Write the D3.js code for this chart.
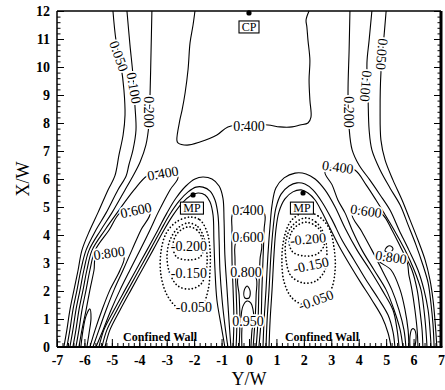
<!DOCTYPE html>
<html>
<head>
<meta charset="utf-8">
<script src="https://cdn.jsdelivr.net/npm/d3@7"></script>
<style>
  html, body { margin: 0; padding: 0; background: #fff; }
  svg { display: block; }
</style>
</head>
<body>
<svg id="chart" width="445" height="390"></svg>
<script>
// ---- axes ----
const spanTicks  = [-7, -6, -5, -4, -3, -2, -1, 0, 1, 2, 3, 4, 5, 6, 7];   // Y/W
const axialTicks = [0, 1, 2, 3, 4, 5, 6, 7, 8, 9, 10, 11, 12];             // X/W

// ---- contour lines, each point is [Y/W, X/W] ----
// outer side lines coming down from the top (left)
const side050L = [[-4.96,12],[-4.85,10.96],[-4.67,10.07],[-4.56,9.18],[-4.52,8.29],[-4.59,7.57],[-4.74,6.86],[-4.89,6.11],[-5.14,5.61],[-5.51,4.79],[-5.80,4.18],[-6.09,3.46],[-6.23,2.75],[-6.38,2.04],[-6.53,1.32],[-6.64,0.61],[-6.75,0]];
const side100L = [[-4.45,12],[-4.34,10.79],[-4.23,9.71],[-4.16,8.64],[-4.12,7.75],[-4.23,7.04],[-4.38,6.5],[-4.48,6.11],[-4.78,5.61],[-5.21,4.79],[-5.58,4.18],[-5.94,3.46],[-6.13,2.75],[-6.27,2.04],[-6.42,1.32],[-6.53,0.61],[-6.64,0]];
const side200L = [[-3.54,12],[-3.57,10.61],[-3.61,8.93],[-3.65,7.93],[-3.76,7.21],[-3.97,6.61],[-4.23,6.11],[-4.52,5.61],[-5.0,4.79],[-5.40,4.18],[-5.83,3.46],[-6.02,2.75],[-6.16,2.04],[-6.31,1.32],[-6.42,0.61],[-6.53,0]];
// left wall jet
const jet400L = [[-6.42,0],[-6.31,0.61],[-6.20,1.32],[-6.05,2.04],[-5.91,2.75],[-5.72,3.46],[-5.25,4.18],[-4.81,4.79],[-4.19,5.61],[-3.72,6.11],[-3.14,6.29],[-2.59,6.07],[-2.88,5.61],[-3.32,4.79],[-3.61,4.18],[-3.97,3.46],[-4.34,2.75],[-4.70,2.04],[-5.03,1.32],[-5.32,0.61],[-5.58,0]];
const jet600L = [[-6.31,0],[-6.20,0.61],[-6.09,1.32],[-5.94,2.04],[-5.80,2.75],[-5.61,3.46],[-5.10,4.18],[-4.70,4.79],[-4.16,4.96],[-3.61,4.79],[-3.94,4.18],[-4.27,3.46],[-4.59,2.75],[-4.92,2.04],[-5.21,1.32],[-5.47,0.61],[-5.69,0]];
const jet800L = [[-6.20,0],[-6.09,0.61],[-5.94,1.32],[-5.80,2.04],[-5.65,2.75],[-5.58,3.21],[-5.07,3.39],[-4.56,3.21],[-4.70,2.75],[-5.07,2.04],[-5.36,1.32],[-5.61,0.61],[-5.80,0]];
const jet950L = [[-6.13,0],[-6.05,0.61],[-5.94,1.11],[-5.80,1.36],[-5.76,1.04],[-5.83,0.5],[-5.91,0]];
// arches over the left recirculation cell
const arch200L = [[-5.47,0],[-5.29,0.61],[-4.92,1.32],[-4.52,2.04],[-4.12,2.75],[-3.72,3.46],[-3.32,4.18],[-2.99,4.79],[-2.66,5.32],[-2.30,5.75],[-1.97,6.0],[-1.68,6.07],[-1.35,6.0],[-1.09,5.75],[-0.95,5.32],[-0.91,4.54],[-0.88,3.29],[-0.80,2.04],[-0.73,0.96],[-0.66,0]];
const arch100L = [[-5.36,0],[-5.18,0.61],[-4.81,1.32],[-4.41,2.04],[-4.01,2.75],[-3.61,3.46],[-3.21,4.18],[-2.88,4.75],[-2.55,5.21],[-2.22,5.54],[-1.93,5.71],[-1.68,5.71],[-1.42,5.57],[-1.24,5.25],[-1.13,4.71],[-1.09,3.82],[-1.06,2.75],[-0.98,1.68],[-0.88,0.79],[-0.77,0]];
const arch050L = [[-5.25,0],[-5.07,0.61],[-4.70,1.32],[-4.30,2.04],[-3.90,2.75],[-3.50,3.46],[-3.10,4.18],[-2.77,4.71],[-2.44,5.14],[-2.15,5.39],[-1.86,5.5],[-1.60,5.43],[-1.42,5.18],[-1.31,4.71],[-1.28,3.82],[-1.24,2.75],[-1.17,1.68],[-1.02,0.79],[-0.88,0]];
// central jet
const jet400C = [[-0.58,0],[-0.55,0.96],[-0.58,2.04],[-0.62,3.11],[-0.62,4.18],[-0.58,4.79],[-0.04,5.0],[0.55,4.79],[0.55,4.18],[0.51,3.11],[0.47,2.04],[0.44,0.96],[0.36,0]];
const jet600C = [[-0.47,0],[-0.44,0.96],[-0.47,2.04],[-0.51,3.11],[-0.47,3.75],[-0.04,3.96],[0.44,3.75],[0.40,3.11],[0.36,2.04],[0.33,0.96],[0.26,0]];
const jet800C = [[-0.36,0],[-0.33,0.96],[-0.36,1.86],[-0.40,2.46],[-0.07,2.75],[0.26,2.46],[0.26,1.86],[0.22,0.96],[0.15,0]];
const jet900C = [[-0.29,1.04],[-0.22,1.46],[-0.07,1.64],[0.07,1.57],[0.15,1.32],[0.18,1.04]];
const jet950C = [[-0.26,0],[-0.26,0.61],[-0.22,0.89],[-0.04,1.04],[0.15,0.89],[0.11,0.61],[0.07,0]];
// arches over the right recirculation cell
const arch200R = [[0.51,0],[0.55,0.96],[0.62,2.04],[0.69,3.29],[0.77,4.36],[0.84,5.07],[0.98,5.68],[1.28,6.04],[1.68,6.21],[2.08,6.18],[2.41,6.0],[2.77,5.61],[3.14,5.0],[3.50,4.25],[3.94,3.46],[4.41,2.75],[4.85,2.04],[5.25,1.32],[5.40,0.61],[5.47,0]];
const arch100R = [[0.62,0],[0.66,0.96],[0.73,2.04],[0.80,3.29],[0.88,4.25],[0.98,4.96],[1.17,5.46],[1.46,5.75],[1.75,5.86],[2.04,5.82],[2.33,5.61],[2.66,5.18],[3.03,4.54],[3.39,3.82],[3.83,3.11],[4.27,2.39],[4.70,1.75],[5.07,1.14],[5.25,0.54],[5.32,0]];
const arch050R = [[0.73,0],[0.77,0.96],[0.84,2.04],[0.91,3.29],[0.98,4.18],[1.09,4.82],[1.31,5.29],[1.60,5.54],[1.90,5.61],[2.15,5.5],[2.41,5.25],[2.66,4.82],[2.95,4.25],[3.28,3.61],[3.68,2.93],[4.08,2.29],[4.48,1.68],[4.85,1.07],[5.07,0.5],[5.18,0]];
// right wall jet
const jet400R = [[5.61,0],[5.51,0.61],[5.29,1.32],[5.0,2.04],[4.56,2.75],[4.12,3.46],[3.76,4.18],[3.50,4.79],[3.24,5.25],[3.03,5.79],[2.77,6.25],[3.24,6.46],[3.86,6.32],[4.27,5.79],[4.63,5.25],[4.92,4.79],[5.29,4.18],[5.69,3.46],[6.02,2.75],[6.27,2.04],[6.38,1.32],[6.45,0.61],[6.49,0]];
const jet600R = [[5.72,0],[5.65,0.61],[5.47,1.32],[5.21,2.04],[4.85,2.75],[4.48,3.46],[4.12,4.11],[3.76,4.75],[4.27,4.96],[4.85,4.75],[5.21,4.18],[5.58,3.46],[5.94,2.75],[6.13,2.04],[6.23,1.32],[6.31,0.61],[6.34,0]];
const jet800R = [[5.83,0],[5.80,0.61],[5.69,1.32],[5.51,2.04],[5.18,2.75],[4.70,3.11],[5.18,3.29],[5.72,3.11],[5.83,2.57],[5.94,2.04],[6.05,1.32],[6.13,0.61],[6.16,0]];
const jet950R = [[5.87,0],[5.87,0.39],[5.94,0.64],[6.02,0.64],[6.09,0.43],[6.05,0]];
// outer side lines coming down from the top (right)
const side200R = [[3.68,12],[3.65,10.61],[3.61,9.07],[3.65,7.82],[3.76,7.04],[4.01,6.5],[4.41,5.96],[4.78,5.43],[5.14,4.89],[5.47,4.18],[5.83,3.46],[6.16,2.75],[6.38,2.04],[6.53,1.32],[6.60,0.61],[6.64,0]];
const side100R = [[4.48,12],[4.38,10.96],[4.30,10.14],[4.34,8.93],[4.38,7.75],[4.48,7.04],[4.78,6.32],[5.14,5.68],[5.51,5.07],[5.80,4.36],[6.09,3.64],[6.34,2.93],[6.53,2.29],[6.64,1.5],[6.71,0.79],[6.75,0]];
const side050R = [[5.0,12],[4.92,11.07],[4.81,9.79],[4.78,8.46],[4.81,7.39],[4.96,6.68],[5.25,5.96],[5.58,5.25],[5.87,4.54],[6.16,3.82],[6.42,3.11],[6.60,2.39],[6.71,1.68],[6.78,0.96],[6.85,0]];
// 0.400 line around the upper core
const core400 = [[-1.97,12],[-2.04,11.5],[-2.15,10.86],[-2.22,9.93],[-2.33,9.07],[-2.44,8.46],[-2.52,8.11],[-2.63,7.39],[-2.59,7.29],[-2.26,7.21],[-1.79,7.32],[-1.17,7.57],[-0.77,7.86],[0,7.96],[0.69,7.93],[1.13,7.86],[1.57,7.86],[1.86,7.93],[2.15,8.0],[2.26,8.21],[2.22,8.82],[2.19,9.54],[2.22,10.25],[2.15,10.96],[2.11,11.43],[2.08,11.68],[2.19,12]];

// closed solid loops
const loop900C = [[-0.07,2.18],[0.04,2.0],[0,1.75],[-0.15,1.75],[-0.18,2.0]];
const loop800R = [[4.96,3.43],[5.03,3.57],[5.16,3.61],[5.25,3.50],[5.14,3.39]];

// negative (dotted) loops inside the recirculation cells
const neg050L = [[-2.15,4.64],[-1.79,4.54],[-1.53,4.11],[-1.42,3.46],[-1.42,2.75],[-1.49,2.04],[-1.68,1.54],[-2.11,1.29],[-2.59,1.39],[-2.99,1.86],[-3.21,2.57],[-3.21,3.39],[-3.03,4.04],[-2.66,4.46]];
const neg150L = [[-2.22,4.43],[-1.86,4.29],[-1.64,3.89],[-1.53,3.29],[-1.57,2.68],[-1.75,2.25],[-2.15,2.07],[-2.59,2.18],[-2.88,2.61],[-2.99,3.21],[-2.88,3.82],[-2.59,4.25]];
const neg200L = [[-2.19,4.29],[-1.90,4.18],[-1.71,3.89],[-1.64,3.54],[-1.79,3.21],[-2.19,3.11],[-2.63,3.21],[-2.77,3.54],[-2.70,3.93],[-2.48,4.18]];
const neg050R = [[2.04,4.82],[2.52,4.68],[2.92,4.25],[3.10,3.54],[3.14,2.75],[2.99,2.04],[2.63,1.61],[2.04,1.5],[1.57,1.75],[1.28,2.32],[1.20,3.11],[1.28,3.89],[1.53,4.5]];
const neg150R = [[2.04,4.61],[2.44,4.46],[2.73,4.04],[2.84,3.39],[2.77,2.75],[2.44,2.36],[1.97,2.29],[1.53,2.54],[1.35,3.11],[1.35,3.82],[1.57,4.32]];
const neg200R = [[2.08,4.46],[2.44,4.32],[2.70,4.0],[2.73,3.61],[2.48,3.32],[2.04,3.25],[1.60,3.39],[1.46,3.75],[1.57,4.14],[1.79,4.36]];

const solidLines = [side050L, side100L, side200L, jet400L, jet600L, jet800L, jet950L,
  arch200L, arch100L, arch050L, jet400C, jet600C, jet800C, jet900C, jet950C,
  arch200R, arch100R, arch050R, jet400R, jet600R, jet800R, jet950R,
  side200R, side100R, side050R, core400];
const solidLoops = [loop900C, loop800R];
const dottedLoops = [neg050L, neg150L, neg200L, neg050R, neg150R, neg200R];

// contour level labels: [text, Y/W, X/W, angle]
const levelLabels = [
  ["0.050", -4.74, 10.39, 70], ["0.100", -4.19, 9.25, 80], ["0.200", -3.65, 8.39, 90],
  ["0.200", 3.65, 8.39, 90], ["0.100", 4.27, 9.32, 95], ["0.050", 4.85, 10.46, 95],
  ["0.400", 0, 7.89, 0],
  ["0.400", -3.14, 6.21, -10], ["0.600", -4.12, 4.89, -12], ["0.800", -5.10, 3.36, -8],
  ["0.400", -0.04, 4.89, 0], ["0.600", -0.04, 3.93, 0], ["0.800", -0.11, 2.68, 0], ["0.950", -0.04, 0.93, 0],
  ["0.400", 3.24, 6.43, 8], ["0.600", 4.27, 4.86, 8], ["0.800", 5.18, 3.21, 8],
  ["-0.200", -2.19, 3.61, 0], ["-0.150", -2.19, 2.64, 0], ["-0.050", -2.01, 1.43, 0],
  ["-0.200", 2.15, 3.86, -5], ["-0.150", 2.26, 2.93, -12], ["-0.050", 2.44, 1.68, -20]
];

// named points: [text, Y/W, X/W] for boxes, [Y/W, X/W] for dots
const pointBoxes = [["MP", -2.08, 4.96], ["MP", 1.93, 4.96], ["CP", 0, 11.43]];
const pointDots = [[-2.04, 5.43], [1.97, 5.5], [0, 11.93]];
const wallNotes = [["Confined Wall", -3.24, 0.21], ["Confined Wall", 2.66, 0.21]];

// ---- drawing ----
const serif = '"Liberation Serif", "Times New Roman", Times, serif';
const svg = d3.select("#chart");
const x = d3.scaleLinear().domain([-7, 7]).range([57, 441]);
const y = d3.scaleLinear().domain([0, 12]).range([347, 11]);

const plot = svg.append("g");
const line = d3.line().x(d => x(d[0])).y(d => y(d[1])).curve(d3.curveCatmullRom.alpha(0.5));
const loop = d3.line().x(d => x(d[0])).y(d => y(d[1])).curve(d3.curveCatmullRomClosed.alpha(0.5));

plot.selectAll("path.solid").data(solidLines).join("path")
  .attr("class", "solid").attr("d", line)
  .attr("fill", "none").attr("stroke", "#000").attr("stroke-width", 1.1);
plot.selectAll("path.solidloop").data(solidLoops).join("path")
  .attr("class", "solidloop").attr("d", loop)
  .attr("fill", "none").attr("stroke", "#000").attr("stroke-width", 1.1);
plot.selectAll("path.neg").data(dottedLoops).join("path")
  .attr("class", "neg").attr("d", loop)
  .attr("fill", "none").attr("stroke", "#000").attr("stroke-width", 1.7)
  .attr("stroke-linecap", "round").attr("stroke-dasharray", "0.1,3.4");

// level labels with a white halo that breaks the lines under them
plot.selectAll("text.lvl").data(levelLabels).join("text")
  .attr("class", "lvl")
  .attr("transform", d => `translate(${x(d[1])},${y(d[2])}) rotate(${d[3]})`)
  .attr("text-anchor", "middle").attr("dy", "0.35em")
  .attr("font-family", serif).attr("font-size", 14)
  .attr("fill", "#000").attr("stroke", "#fff").attr("stroke-width", 3.5)
  .attr("paint-order", "stroke fill")
  .text(d => d[0]);

// boxed point names
const boxes = plot.selectAll("g.box").data(pointBoxes).join("g")
  .attr("class", "box").attr("transform", d => `translate(${x(d[1])},${y(d[2])})`);
boxes.append("rect").attr("x", d => d[0] === "MP" ? -11.5 : -10).attr("y", -6)
  .attr("width", d => d[0] === "MP" ? 23 : 20).attr("height", 12)
  .attr("fill", "#fff").attr("stroke", "#000").attr("stroke-width", 1.1);
boxes.append("text").attr("text-anchor", "middle").attr("dy", "0.36em")
  .attr("font-family", serif).attr("font-size", 12).text(d => d[0]);

plot.selectAll("circle.pt").data(pointDots).join("circle")
  .attr("class", "pt").attr("cx", d => x(d[0])).attr("cy", d => y(d[1])).attr("r", 2.6)
  .attr("fill", "#000");

plot.selectAll("text.wall").data(wallNotes).join("text")
  .attr("class", "wall").attr("x", d => x(d[1])).attr("y", d => y(d[2]))
  .attr("text-anchor", "middle").attr("font-family", serif)
  .attr("font-size", 12).attr("font-weight", "bold").text(d => d[0]);

// ---- axes ----
function styleAxis(g) {
  g.attr("font-family", serif).attr("font-size", 14).attr("font-weight", "bold");
  g.selectAll(".tick line").attr("stroke", "#000");
  g.selectAll(".tick text").attr("fill", "#000");
  g.select(".domain").remove();
}
const minorSpan = d3.range(-7, 7.001, 0.2);
const minorAxial = d3.range(0, 12.001, 0.2);

svg.append("g").attr("transform", "translate(57,0)")
  .call(d3.axisLeft(y).tickValues(minorAxial).tickSize(-3.5).tickFormat(""))
  .call(styleAxis);
svg.append("g").attr("transform", "translate(57,0)")
  .call(d3.axisLeft(y).tickValues(axialTicks).tickSize(-7).tickPadding(7).tickFormat(d => String(d)))
  .call(styleAxis);
svg.append("g").attr("transform", "translate(0,347)")
  .call(d3.axisBottom(x).tickValues(minorSpan).tickSize(-4).tickFormat(""))
  .call(styleAxis);
svg.append("g").attr("transform", "translate(0,347)")
  .call(d3.axisBottom(x).tickValues(spanTicks).tickSize(-8).tickPadding(8).tickFormat(d => String(d)))
  .call(styleAxis);
svg.append("g").attr("transform", "translate(441,0)")
  .call(d3.axisRight(y).tickValues(minorAxial).tickSize(-3.5).tickFormat(""))
  .call(styleAxis);
svg.append("g").attr("transform", "translate(441,0)")
  .call(d3.axisRight(y).tickValues(axialTicks).tickSize(-7).tickFormat(""))
  .call(styleAxis);

// frame
const frame = svg.append("g").attr("stroke", "#000").attr("fill", "none");
frame.append("line").attr("x1", x(-7)).attr("x2", x(-7)).attr("y1", y(0)).attr("y2", y(12)).attr("stroke-width", 1.5);
frame.append("line").attr("x1", x(-7)).attr("x2", x(7)).attr("y1", y(12)).attr("y2", y(12)).attr("stroke-width", 1.5);
frame.append("line").attr("x1", x(-7)).attr("x2", x(7) + 1.5).attr("y1", y(0)).attr("y2", y(0)).attr("stroke-width", 2);
frame.append("line").attr("x1", x(7)).attr("x2", x(7)).attr("y1", y(0)).attr("y2", y(12)).attr("stroke-width", 3);

// axis titles
svg.append("text").attr("x", x(0)).attr("y", 385).attr("text-anchor", "middle")
  .attr("font-family", serif).attr("font-size", 18).text("Y/W");
svg.append("text").attr("transform", `translate(29,${y(6)}) rotate(-90)`).attr("text-anchor", "middle")
  .attr("font-family", serif).attr("font-size", 18).text("X/W");
</script>
</body>
</html>
